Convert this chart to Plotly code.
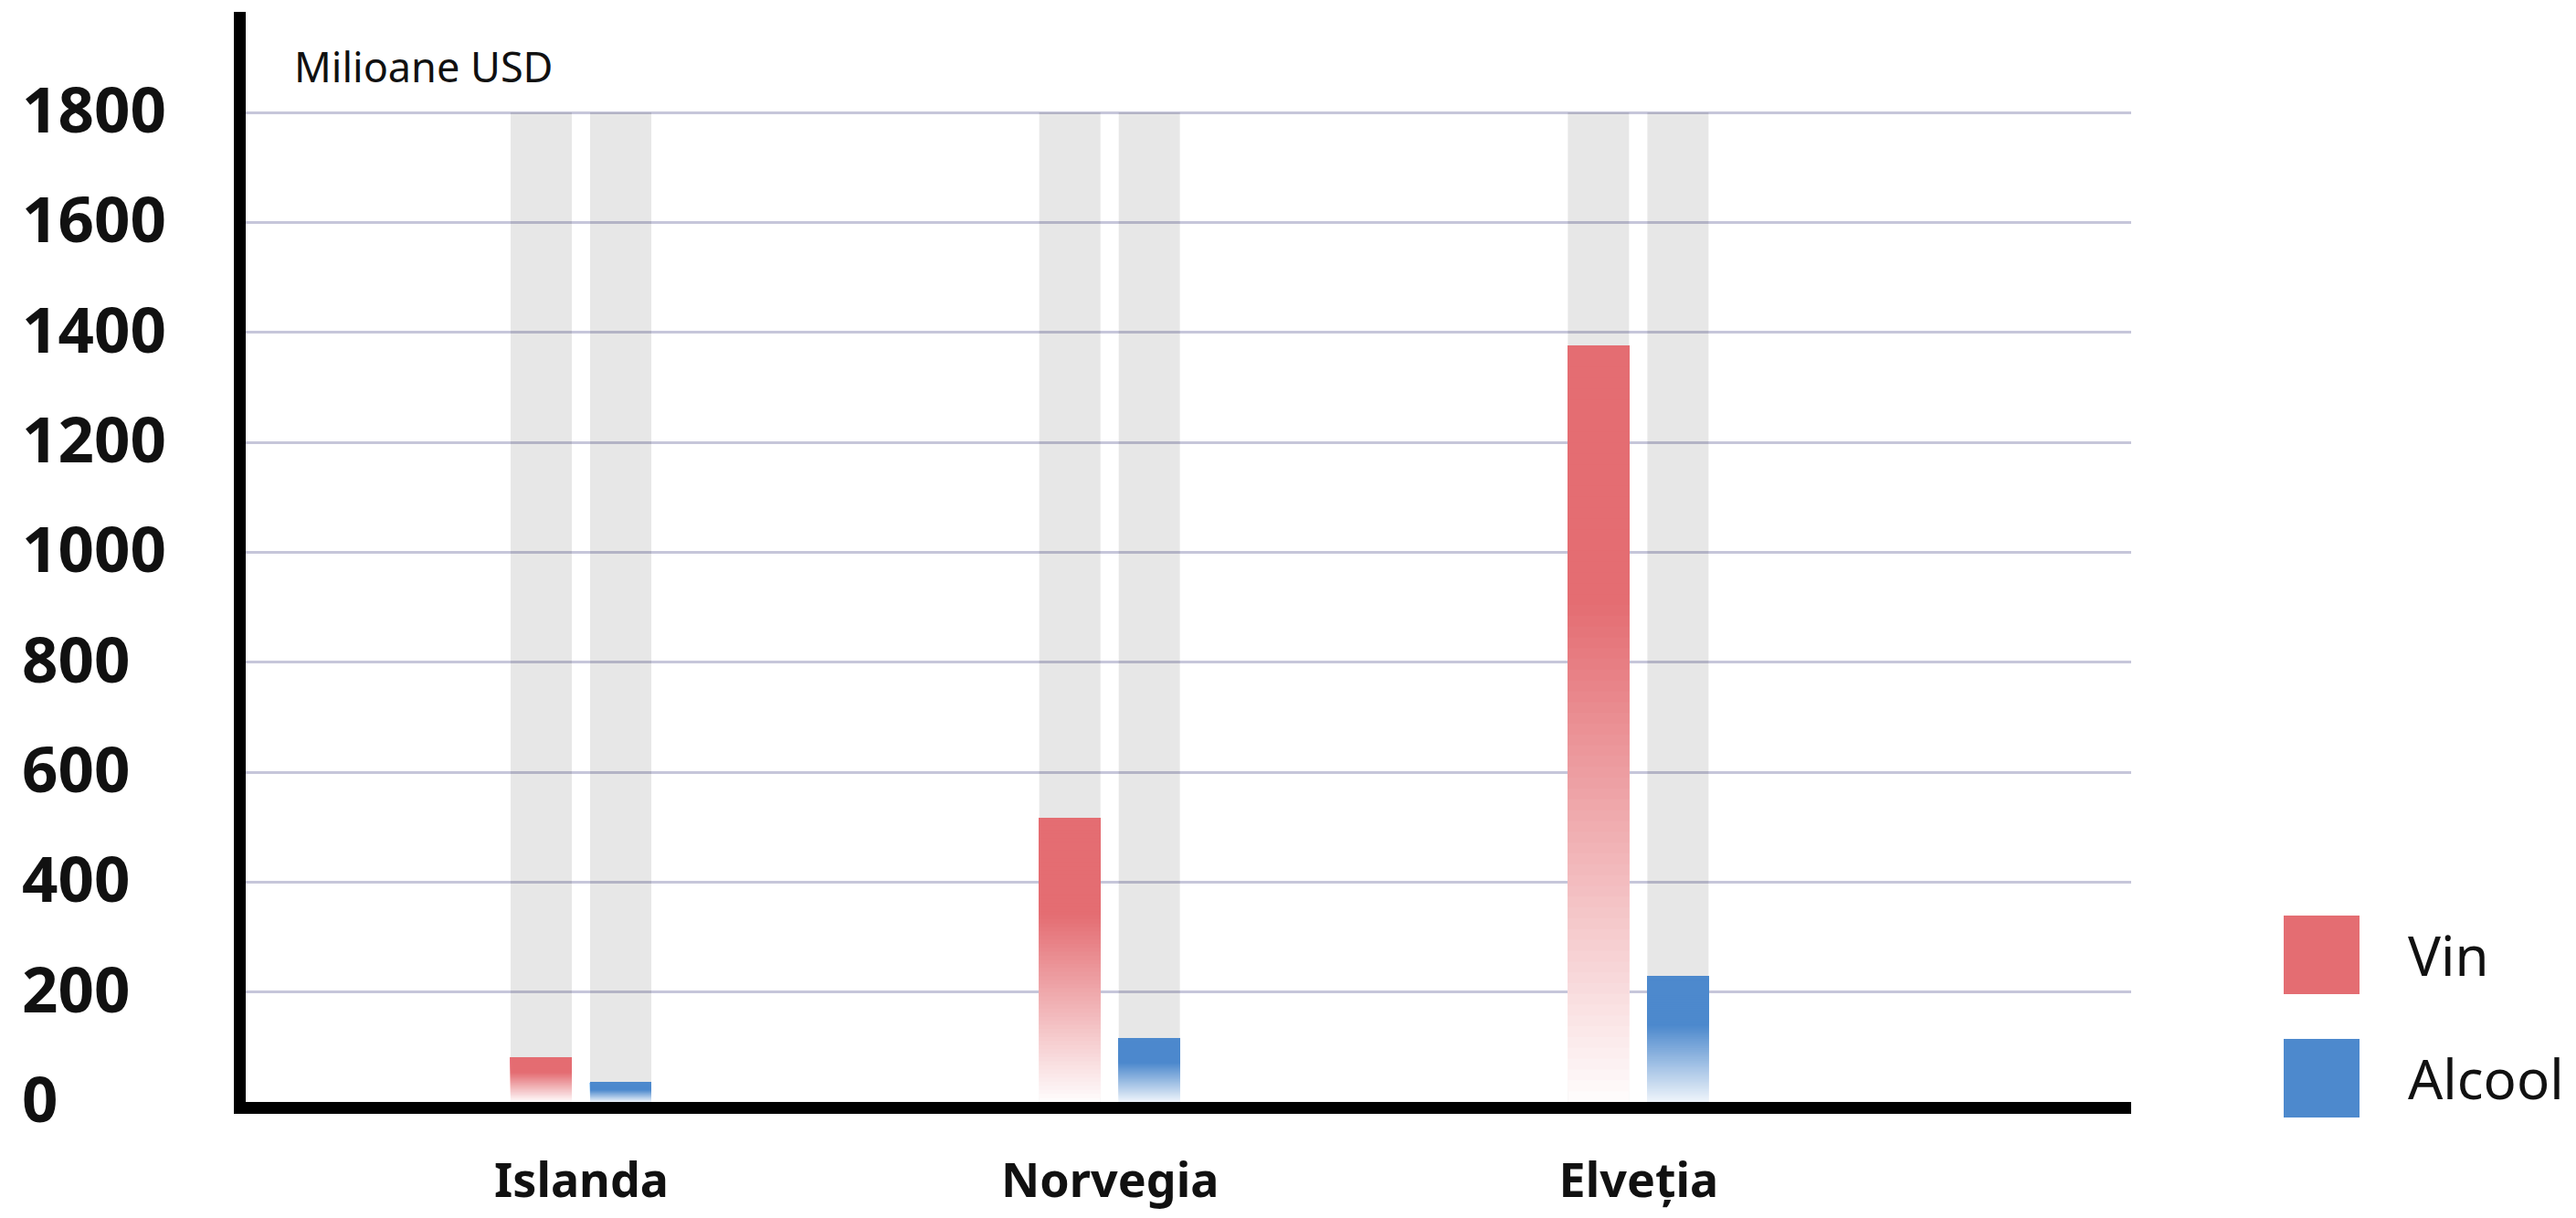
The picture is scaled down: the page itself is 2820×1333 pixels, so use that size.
import plotly.graph_objects as go

# ---- data ----
countries = ["Islanda", "Norvegia", "Elveția"]
vin = [81, 517, 1376]
alcool = [36, 116, 229]
series_names = ["Vin", "Alcool"]
y_tick_values = [0, 200, 400, 600, 800, 1000, 1200, 1400, 1600, 1800]
y_tick_labels = ["0", "200", "400", "600", "800", "1000", "1200", "1400", "1600", "1800"]
background_max = 1800
unit_label = "Milioane USD"

# ---- styling ----
PAGE = 8  # default body margin of the html page
W, H = 2820 - 2 * PAGE, 1333 - 2 * PAGE
L, T = 261, 5
R = W - (2333 - PAGE)
B = H - (1206 - PAGE)
PW, PH = W - L - R, H - T - B
RED = (228, 109, 114)
BLUE = (77, 137, 205)
BAR_W = 0.1158
OFF_VIN = -0.134
OFF_ALC = 0.0164
FONT = "Noto Sans"


def px_x(px):  # screen pixel -> paper
    return (px - PAGE - L) / PW


def px_y(py):
    return (H - B - (py - PAGE)) / PH


def mix(c, a):
    return "rgb(%d,%d,%d)" % tuple(round(255 + (ci - 255) * a) for ci in c)


def gradient_trace(values, color, offset, a0, solid_frac, name, n=70):
    xs, bases, heights, cols = [], [], [], []
    for cat, v in zip(countries, values):
        for k in range(n):
            f = k / n
            base = v * f
            xs.append(cat)
            bases.append(base)
            heights.append(v - base)
            a = a0 + (1 - a0) * min(1.0, f / (1 - solid_frac))
            cols.append(mix(color, a))
    return go.Bar(
        x=xs, y=heights, base=bases, width=BAR_W, offset=offset,
        marker=dict(color=cols, line=dict(width=0)),
        name=name, showlegend=False, hoverinfo="skip",
    )


fig = go.Figure()
for off in (OFF_VIN, OFF_ALC):
    fig.add_trace(go.Bar(
        x=countries, y=[background_max] * len(countries), width=BAR_W, offset=off,
        marker=dict(color="rgba(0,0,0,0.095)", line=dict(width=0)),
        showlegend=False, hoverinfo="skip",
    ))
fig.add_trace(gradient_trace(vin, RED, OFF_VIN, 0.03, 0.35, series_names[0]))
fig.add_trace(gradient_trace(alcool, BLUE, OFF_ALC, 0.10, 0.40, series_names[1]))

annotations = []
for v, lab in zip(y_tick_values, y_tick_labels):
    annotations.append(dict(
        x=px_x(22), xref="paper", xanchor="left", y=v, yref="y", yanchor="middle",
        yshift=5, text=lab, showarrow=False,
        font=dict(family=FONT, size=69, color="#111111", weight="bold"),
    ))
annotations.append(dict(
    x=px_x(320), xref="paper", xanchor="left", y=px_y(72), yref="paper", yanchor="middle",
    text=unit_label, showarrow=False, font=dict(family=FONT, size=45, color="#111111"),
))

legend_y = [1045, 1180]
colors = [RED, BLUE]
shapes = []
for name, c, cy in zip(series_names, colors, legend_y):
    shapes.append(dict(
        type="rect", xref="paper", yref="paper",
        x0=px_x(2500), x1=px_x(2583), y0=px_y(cy + 43), y1=px_y(cy - 43),
        fillcolor=mix(c, 1), line=dict(width=0),
    ))
    annotations.append(dict(
        x=px_x(2634), xref="paper", xanchor="left", y=px_y(cy), yref="paper", yanchor="middle",
        text=name, showarrow=False, font=dict(family=FONT, size=60, color="#111111"),
    ))

fig.update_layout(
    width=W, height=H,
    margin=dict(l=L, r=R, t=T, b=B, pad=0, autoexpand=False),
    paper_bgcolor="white", plot_bgcolor="white",
    barmode="overlay",
    xaxis=dict(
        type="category", categoryorder="array", categoryarray=countries,
        range=[(L + PAGE - 636.5) / 578.7, (L + PAGE + PW - 636.5) / 578.7],
        showline=True, linecolor="black", linewidth=13, automargin=False,
        showgrid=False, zeroline=False, ticks="",
        tickfont=dict(family=FONT, size=52, color="#111111", weight="bold"),
        ticklabelstandoff=29,
    ),
    yaxis=dict(
        range=[0, PH / ((1206 - 123) / 1800)],
        tickvals=y_tick_values, showticklabels=False, ticks="", automargin=False,
        showline=True, linecolor="black", linewidth=13,
        showgrid=True, gridcolor="#C6C6DA", gridwidth=3, zeroline=False,
    ),
    annotations=annotations, shapes=shapes,
)

fig.write_html("out.html")
